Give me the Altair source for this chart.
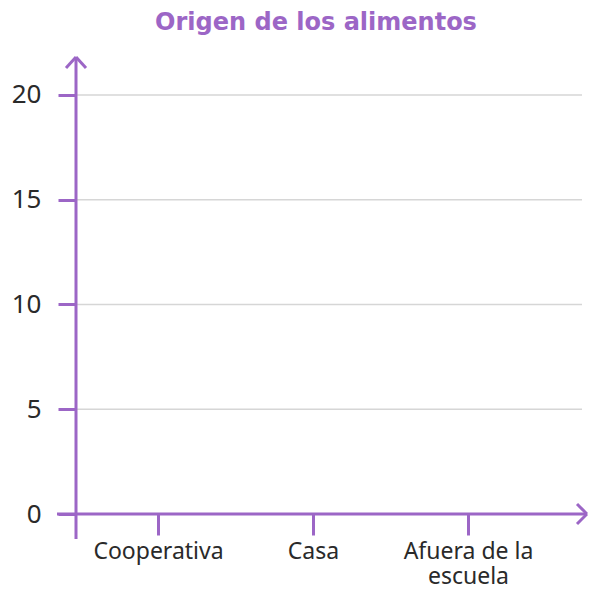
import altair as alt
import pandas as pd

# Data (empty template chart: no counts shown yet)
categorias = ["Cooperativa", "Casa", "Afuera de la escuela"]
cantidades = [0, 0, 0]
y_ticks = [0, 5, 10, 15, 20]
titulo = "Origen de los alimentos"

PURPLE = "#9c66c6"
GRID = "#d6d6d6"
TEXT = "#2a2a2a"
FONT = "Noto Sans"

df = pd.DataFrame({"origen": categorias, "cantidad": cantidades})
grid_df = pd.DataFrame({"cantidad": y_ticks})
one = pd.DataFrame({"k": [0]})

W, H = 506, 454
YSCALE = alt.Scale(domain=[0, 21.67], nice=False, zero=True)
YAXIS = alt.Axis(
    title=None,
    values=y_ticks,
    domain=False,
    grid=False,
    tickColor=PURPLE,
    tickWidth=3,
    tickSize=18,
    labelFont=FONT,
    labelFontSize=26,
    labelColor=TEXT,
    labelPadding=17,
)

base = alt.Chart(df).mark_bar(opacity=0).encode(
    x=alt.X(
        "origen:N",
        sort=categorias,
        scale=alt.Scale(type="point", range=[82, 392], padding=0),
        axis=alt.Axis(
            title=None,
            domain=False,
            grid=False,
            ticks=True,
            tickColor=PURPLE,
            tickWidth=3,
            tickSize=21,
            labelAngle=0,
            labelFont=FONT,
            labelFontSize=23,
            labelColor=TEXT,
            labelPadding=5,
            labelLineHeight=25,
            labelBaseline="top",
            labelExpr="datum.label == 'Afuera de la escuela' ? ['Afuera de la', 'escuela'] : datum.label",
        ),
    ),
    y=alt.Y("cantidad:Q", scale=YSCALE, axis=YAXIS),
)

grid = alt.Chart(grid_df).mark_rule(color=GRID, strokeWidth=1.5).encode(
    y=alt.Y("cantidad:Q", scale=YSCALE, axis=YAXIS),
    x=alt.value(0),
    x2=alt.value(W),
)


def seg(x1, y1, x2, y2):
    return alt.Chart(one).mark_rule(color=PURPLE, strokeWidth=3).encode(
        x=alt.value(x1), y=alt.value(y1), x2=alt.value(x2), y2=alt.value(y2)
    )


decor = [
    seg(0, -3, 0, 479),       # y axis line
    seg(-19, 454, 511, 454),  # x axis line
    seg(0, -3, -10, 8),       # top arrow
    seg(0, -3, 10, 8),
    seg(511, 454, 501, 444),  # right arrow
    seg(511, 454, 501, 464),
]

chart = alt.layer(base, grid, *decor).properties(
    width=W,
    height=H,
    title=alt.TitleParams(
        titulo,
        font="DejaVu Sans",
        fontSize=24,
        fontWeight="bold",
        color=PURPLE,
        anchor="middle",
        dx=-13,
        offset=21,
    ),
    autosize=alt.AutoSizeParams(type="none"),
    padding={"left": 68, "top": 52, "right": 6, "bottom": 74},
).configure_view(stroke=None)

chart.save("out.html", embed_options={"renderer": "svg", "actions": False})
